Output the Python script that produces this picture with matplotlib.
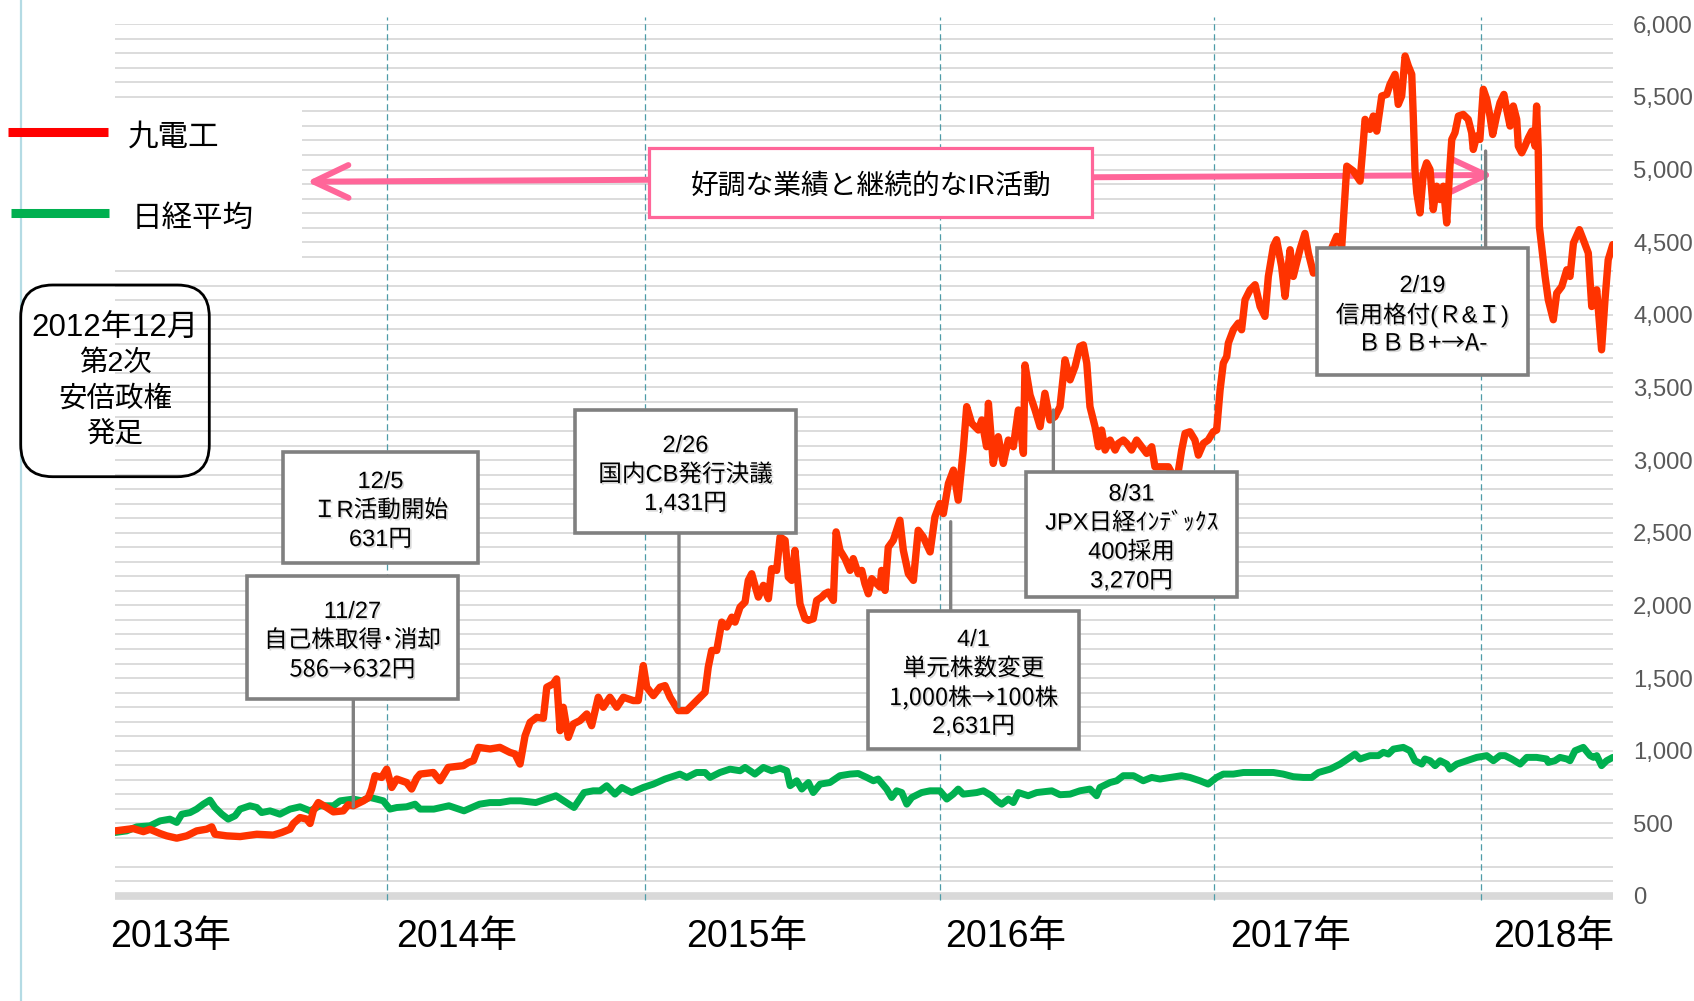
import matplotlib
matplotlib.use('Agg')
import matplotlib.pyplot as plt
import matplotlib.patheffects as pe
from matplotlib.patches import Rectangle, FancyBboxPatch
from matplotlib.lines import Line2D
from matplotlib.transforms import Affine2D, blended_transform_factory

plt.rcParams['font.family'] = ['Liberation Sans', 'Noto Sans CJK JP']

# ---- data (x = months since Jan 2013) ----
kyudenko_month = [
    0.00, 0.80, 1.24, 1.53, 1.97, 2.26, 2.70, 3.14, 3.57, 4.01,
    4.23, 4.37, 4.88, 5.47, 6.20, 6.92, 7.29, 7.65, 7.80, 8.09,
    8.38, 8.53, 8.67, 8.89, 9.26, 9.55, 9.98, 10.20, 10.42, 10.86,
    11.08, 11.22, 11.37, 11.66, 11.88, 12.10, 12.32, 12.75, 12.97, 13.19,
    13.34, 13.92, 14.21, 14.57, 15.23, 15.45, 15.67, 15.89, 16.40, 16.83,
    17.27, 17.49, 17.71, 17.93, 18.15, 18.44, 18.73, 18.88, 19.16, 19.31,
    19.46, 19.60, 19.82, 20.04, 20.33, 20.63, 20.84, 21.13, 21.35, 21.64,
    21.94, 22.23, 22.66, 22.88, 23.10, 23.25, 23.54, 23.83, 24.05, 24.27,
    24.63, 25.00, 25.29, 25.50, 25.80, 25.94, 26.09, 26.31, 26.53, 26.75,
    26.97, 27.11, 27.33, 27.55, 27.69, 27.84, 27.98, 28.13, 28.35, 28.57,
    28.71, 28.93, 29.08, 29.30, 29.44, 29.59, 29.73, 29.95, 30.17, 30.32,
    30.53, 30.68, 30.90, 31.04, 31.19, 31.41, 31.53, 31.70, 31.92, 32.14,
    32.28, 32.50, 32.65, 32.79, 32.94, 33.09, 33.31, 33.45, 33.52, 33.67,
    33.81, 34.03, 34.32, 34.47, 34.69, 34.91, 35.12, 35.34, 35.64, 35.85,
    36.07, 36.22, 36.44, 36.66, 36.87, 37.09, 37.24, 37.46, 37.75, 37.90,
    38.11, 38.19, 38.40, 38.62, 38.84, 39.06, 39.28, 39.50, 39.72, 39.79,
    40.01, 40.23, 40.45, 40.66, 40.88, 41.10, 41.32, 41.54, 41.76, 41.98,
    42.19, 42.34, 42.49, 42.63, 42.85, 43.00, 43.14, 43.29, 43.51, 43.73,
    43.87, 44.09, 44.24, 44.45, 44.67, 44.89, 45.11, 45.33, 45.47, 45.77,
    46.06, 46.42, 46.64, 46.79, 47.00, 47.22, 47.37, 47.59, 47.80, 48.02,
    48.17, 48.32, 48.46, 48.61, 48.68, 48.90, 49.12, 49.26, 49.41, 49.63,
    49.85, 50.07, 50.28, 50.43, 50.65, 50.79, 51.01, 51.16, 51.38, 51.52,
    51.81, 52.03, 52.18, 52.40, 52.69, 53.04, 53.42, 53.64, 53.86, 54.15,
    54.44, 54.58, 54.66, 54.87, 55.02, 55.17, 55.39, 55.61, 55.75, 55.97,
    56.11, 56.26, 56.41, 56.55, 56.70, 56.77, 56.84, 56.92, 57.06, 57.21,
    57.35, 57.50, 57.64, 57.79, 57.94, 58.08, 58.23, 58.37, 58.45, 58.59,
    58.74, 58.95, 59.17, 59.32, 59.39, 59.54, 59.68, 59.83, 59.98, 60.12,
    60.24, 60.41, 60.56, 60.73, 60.85, 61.00, 61.14, 61.29, 61.36, 61.51,
    61.65, 61.80, 61.95, 62.09, 62.16, 62.23, 62.28, 62.38, 62.53, 62.67,
    62.89, 63.04, 63.26, 63.48, 63.62, 63.77, 64.03, 64.20, 64.42, 64.57,
    64.79, 65.00, 65.15, 65.29, 65.49,
]
kyudenko_price = [
    448, 464, 443, 459, 430, 414, 398, 414, 448, 460,
    476, 425, 414, 409, 425, 419, 437, 460, 499, 540,
    529, 499, 586, 643, 609, 579, 586, 628, 621, 655,
    678, 736, 828, 816, 873, 747, 805, 781, 736, 811,
    839, 850, 793, 885, 897, 919, 931, 1023, 1012, 1023,
    988, 977, 908, 1103, 1195, 1230, 1223, 1437, 1460, 1494,
    1138, 1299, 1092, 1184, 1207, 1253, 1172, 1368, 1299, 1368,
    1299, 1368, 1345, 1345, 1586, 1437, 1379, 1437, 1448, 1368,
    1276, 1276, 1322, 1356, 1402, 1575, 1690, 1690, 1885, 1851,
    1919, 1885, 1988, 2023, 2172, 2218, 2138, 2057, 2138, 2046,
    2253, 2241, 2471, 2448, 2195, 2172, 2379, 2011, 1908, 1897,
    1908, 2034, 2057, 2080, 2092, 2034, 2506, 2379, 2322, 2241,
    2322, 2218, 2241, 2149, 2080, 2184, 2149, 2126, 2241, 2103,
    2400, 2448, 2586, 2379, 2218, 2172, 2517, 2471, 2368, 2609,
    2701, 2632, 2839, 2931, 2724, 3069, 3368, 3253, 3207, 3276,
    3092, 3391, 2977, 3161, 2977, 3138, 3092, 3345, 3046, 3655,
    3448, 3345, 3230, 3460, 3276, 3299, 3368, 3690, 3552, 3644,
    3782, 3793, 3667, 3368, 3230, 3092, 3207, 3069, 3138, 3069,
    3115, 3138, 3115, 3069, 3138, 3092, 3046, 3092, 2954, 2954,
    2954, 2850, 3069, 3184, 3195, 3138, 3034, 3115, 3138, 3195,
    3207, 3483, 3667, 3713, 3805, 3897, 3943, 3897, 4103, 4172,
    4207, 4057, 3989, 4264, 4471, 4517, 4333, 4126, 4448, 4264,
    4448, 4560, 4425, 4287, 4300, 4400, 4540, 4471, 5023, 4989,
    4920, 5184, 5345, 5276, 5368, 5264, 5506, 5517, 5586, 5655,
    5448, 5506, 5781, 5713, 5655, 5356, 5000, 4839, 4701, 4977,
    5046, 5000, 4724, 4885, 4793, 4885, 4632, 5023, 5207, 5253,
    5368, 5379, 5345, 5253, 5138, 5230, 5207, 5552, 5483, 5368,
    5241, 5368, 5460, 5517, 5414, 5299, 5437, 5345, 5161, 5115,
    5161, 5218, 5264, 5161, 5437, 5138, 4609, 4471, 4264, 4103,
    3966, 4149, 4195, 4310, 4264, 4494, 4586, 4517, 4425, 4057,
    4172, 3759, 4103, 4379, 4483,
]

nikkei_month = [
    0.00, 0.51, 0.95, 1.53, 1.97, 2.40, 2.70, 2.92, 3.28, 3.57,
    3.86, 4.15, 4.37, 4.67, 4.95, 5.25, 5.47, 5.90, 6.20, 6.41,
    6.78, 7.21, 7.65, 8.09, 8.53, 8.96, 9.55, 9.84, 10.42, 10.79,
    11.15, 11.44, 11.73, 12.02, 12.32, 12.75, 13.12, 13.34, 13.94, 14.60,
    15.26, 15.94, 16.39, 16.83, 17.28, 17.73, 18.40, 19.28, 20.07, 20.51,
    20.91, 21.21, 21.50, 21.86, 22.16, 22.59, 23.10, 23.54, 24.05, 24.70,
    25.00, 25.43, 25.80, 26.02, 26.45, 26.89, 27.33, 27.55, 27.98, 28.35,
    28.71, 29.08, 29.37, 29.52, 29.81, 30.03, 30.32, 30.53, 30.83, 31.26,
    31.70, 32.14, 32.50, 32.87, 33.16, 33.37, 33.74, 33.96, 34.18, 34.40,
    34.62, 34.84, 35.27, 35.64, 36.07, 36.37, 36.65, 36.87, 37.09, 37.68,
    37.97, 38.33, 38.55, 38.77, 39.06, 39.28, 39.50, 39.93, 40.30, 40.96,
    41.32, 41.76, 42.19, 42.63, 42.92, 43.07, 43.51, 43.80, 44.09, 44.53,
    44.96, 45.33, 45.69, 46.13, 46.64, 47.00, 47.44, 47.80, 48.17, 48.46,
    48.90, 49.34, 49.92, 50.65, 51.08, 51.52, 51.96, 52.33, 52.62, 53.13,
    53.57, 54.00, 54.22, 54.44, 54.87, 55.24, 55.46, 55.68, 55.90, 56.33,
    56.62, 56.84, 57.14, 57.28, 57.50, 57.72, 57.94, 58.23, 58.37, 58.67,
    59.11, 59.54, 59.98, 60.27, 60.56, 60.78, 61.07, 61.44, 61.73, 62.16,
    62.60, 62.67, 62.96, 63.18, 63.48, 63.62, 63.84, 64.20, 64.50, 64.65,
    64.79, 65.00, 65.22, 65.49,
]
nikkei_value = [
    437, 448, 476, 483, 517, 529, 506, 563, 574, 598,
    632, 660, 609, 563, 529, 552, 598, 621, 609, 574,
    586, 563, 598, 614, 586, 621, 621, 655, 667, 655,
    678, 667, 655, 598, 609, 614, 632, 598, 598, 621,
    586, 632, 643, 643, 655, 655, 643, 690, 609, 712,
    724, 724, 759, 701, 747, 712, 747, 770, 805, 839,
    816, 850, 850, 816, 850, 873, 862, 885, 839, 885,
    862, 880, 862, 759, 793, 736, 781, 712, 770, 781,
    828, 839, 843, 816, 793, 805, 736, 678, 724, 712,
    632, 678, 712, 724, 724, 667, 701, 736, 701, 712,
    724, 690, 655, 632, 667, 643, 712, 690, 712, 724,
    697, 701, 724, 736, 690, 747, 781, 793, 828, 828,
    793, 816, 805, 816, 828, 816, 793, 770, 816, 839,
    839, 850, 850, 850, 839, 821, 816, 816, 850, 873,
    908, 954, 977, 943, 966, 966, 989, 977, 1011, 1023,
    1000, 931, 908, 943, 931, 897, 931, 908, 873, 908,
    931, 954, 966, 931, 966, 966, 943, 908, 954, 954,
    943, 919, 931, 954, 943, 931, 1000, 1023, 966, 954,
    966, 897, 931, 954,
]

year_lines = [11.89, 23.17, 36.07, 48.07, 59.75]
year_label_pos = [2.45, 14.93, 27.60, 38.96, 51.42, 62.92]
year_labels = ['2013年', '2014年', '2015年', '2016年', '2017年', '2018年']
y_ticks = list(range(0, 6001, 500))
grid_levels = [v for v in range(100, 6001, 100) if v != 300]

series_names = ['九電工', '日経平均']

# events: pointer (month, price) or None, text lines, box in pixels (x0, y0, x1, y1)
events = [
    (None, ['12/5', 'ＩR活動開始', '631円'], (283, 452, 478, 563)),
    ((10.42, 614), ['11/27', '自己株取得･消却', '586→632円'], (247, 576, 458, 699)),
    ((24.66, 1303), ['2/26', '国内CB発行決議', '1,431円'], (575, 410, 796, 533)),
    ((36.54, 2576), ['4/1', '単元株数変更', '1,000株→100株', '2,631円'], (868, 611, 1079, 749)),
    ((41.03, 3345), ['8/31', 'JPX日経ｲﾝﾃﾞｯｸｽ', '400採用', '3,270円'], (1026, 472, 1237, 597)),
    ((59.93, 5127), ['2/19', '信用格付(Ｒ&Ｉ)', 'ＢＢＢ+→A-'], (1317, 248, 1528, 375)),
]

W, H = 1694, 1001
RED = '#ff3300'
GREEN = '#00b050'
PINK = '#ff6699'
LATIN_FIRST = ['Liberation Sans', 'Noto Sans CJK JP']
CJK_FIRST = ['Noto Sans CJK JP', 'Liberation Sans']

fig = plt.figure(figsize=(W / 100, H / 100), dpi=100)
pxT = Affine2D().scale(1 / W, -1 / H).translate(0, 1) + fig.transFigure

ax = fig.add_axes([115 / W, 1 - 896 / H, 1498 / W, (896 - 24.2) / H])
ax.set_xlim(0, 65.5)
ax.set_ylim(0, 6000)
for s in ax.spines.values():
    s.set_visible(False)

# grid and baseline
ax.hlines(grid_levels, 0, 65.5, color='#d9d9d9', lw=1.3, zorder=0.5)
ax.hlines([0], 0, 65.5, color='#d9d9d9', lw=5.5, zorder=0.6, clip_on=False)
ax.vlines(year_lines, -30, 6050, color='#4e9ca8', lw=0.9, linestyles=(0, (5, 3)),
          zorder=1.5, clip_on=False)

# white area behind the legend hides the grid
ax.add_patch(Rectangle((100, 108), 202, 154, transform=pxT, facecolor='white',
                       edgecolor='none', zorder=1, clip_on=False))

# y axis on the right
ax.yaxis.tick_right()
ax.set_yticks(y_ticks)
ax.set_yticklabels([f'{v:,}' for v in y_ticks])
ax.tick_params(axis='y', length=0, pad=14.4, labelsize=17.2, labelcolor='#595959')
ax.set_xticks([])

xlab_tr = blended_transform_factory(ax.transData, pxT)
for pos, lab in zip(year_label_pos, year_labels):
    ax.text(pos, 947, lab, transform=xlab_tr, ha='center', va='baseline',
            fontsize=27, color='black', clip_on=False)

# series
ax.plot(nikkei_month, nikkei_value, color=GREEN, lw=5.0, solid_joinstyle='round',
        solid_capstyle='round', zorder=3)
ax.plot(kyudenko_month, kyudenko_price, color=RED, lw=5.3, solid_joinstyle='round',
        solid_capstyle='round', zorder=3.1)

# pink double arrow + box
ax.annotate('', xy=(306.7, 181.7), xycoords=pxT, xytext=(1493, 175), textcoords=pxT,
            arrowprops=dict(arrowstyle='<->,head_length=25,head_width=11.8', mutation_scale=1,
                            lw=4.3, color=PINK, shrinkA=0, shrinkB=0,
                            capstyle='round', joinstyle='round'),
            zorder=2)
fig.add_artist(Rectangle((649.3, 148), 443, 69.2, transform=pxT, facecolor='white',
                         edgecolor=PINK, lw=2.3, zorder=5))
fig.text(871, 186.5, '好調な業績と継続的なIR活動', transform=pxT, ha='center', va='center',
         fontsize=20, color='black', zorder=6)

# event boxes and pointers
shadow = [pe.withSimplePatchShadow(offset=(1.2, -1.2), shadow_rgbFace='#aaaaaa', alpha=0.45)]
for pointer, lines, (x0, y0, x1, y1) in events:
    if pointer is not None:
        m, v = pointer
        y_fig_px = 896 - v * (896 - 24.2) / 6000
        edge = y1 if y1 < y_fig_px else y0
        ax.annotate('', xy=(m, v), xycoords='data', xytext=(m, H - edge),
                    textcoords=('data', 'figure pixels'),
                    arrowprops=dict(arrowstyle='-', color='#808080', lw=2.4,
                                    shrinkA=0, shrinkB=0),
                    zorder=4, annotation_clip=False)
    fig.add_artist(Rectangle((x0, y0), x1 - x0, y1 - y0, transform=pxT, facecolor='white',
                             edgecolor='#808080', lw=2.6, zorder=5))
    cx, cy = (x0 + x1) / 2, (y0 + y1) / 2 + 3.5
    n = len(lines)
    for i, t in enumerate(lines):
        fam = CJK_FIRST if '→' in t else LATIN_FIRST
        fig.text(cx, cy + (i - (n - 1) / 2) * 29, t, transform=pxT, ha='center', va='center',
                 fontsize=17, color='black', zorder=6, path_effects=shadow, family=fam)

# left edge line
fig.add_artist(Line2D([20.7, 20.7], [0, H], transform=pxT, color='#b4dbe4', lw=1.6, zorder=2))

# legend
fig.add_artist(Line2D([8, 108], [132.3, 132.3], transform=pxT, color='#ff0000', lw=6.5,
                      solid_capstyle='butt', zorder=3))
fig.add_artist(Line2D([10.7, 109.3], [212.7, 212.7], transform=pxT, color=GREEN, lw=6.5,
                      solid_capstyle='butt', zorder=3))
fig.text(128, 138, series_names[0], transform=pxT, ha='left', va='center', fontsize=22)
fig.text(131.7, 219, series_names[1], transform=pxT, ha='left', va='center', fontsize=22)

# Abe government note
fig.add_artist(FancyBboxPatch((20.7, 285), 188.6, 191.7, boxstyle='round,pad=0,rounding_size=32',
                              transform=pxT, facecolor='none', edgecolor='black', lw=2, zorder=4))
abe_lines = ['2012年12月', '第2次', '安倍政権', '発足']
abe_sizes = [22.5, 20.5, 20.5, 20.5]
for i, (t, fs) in enumerate(zip(abe_lines, abe_sizes)):
    fig.text(115, 328 + i * 35.5, t, transform=pxT, ha='center', va='center', fontsize=fs)

fig.savefig('out.png', dpi=100, facecolor='white')
